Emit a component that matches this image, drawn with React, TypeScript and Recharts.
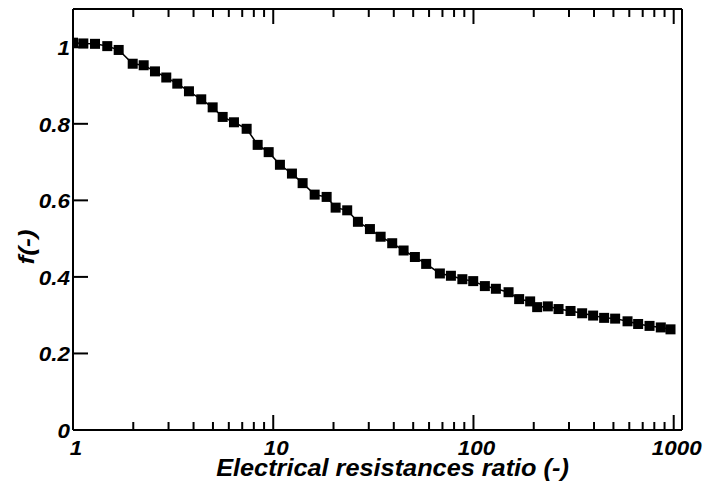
import React from 'react';
import { LineChart, Line, XAxis, YAxis } from 'recharts';

// resistance ratio (x, log scale) and f(-)
const ratio = [
  1.0, 1.126, 1.288, 1.483, 1.691, 1.987, 2.254, 2.567, 2.923, 3.317,
  3.794, 4.37, 4.983, 5.59, 6.366, 7.365, 8.36, 9.49, 10.8, 12.4,
  14.02, 16.1, 18.48, 20.49, 23.41, 26.48, 30.4, 34.38, 39.28, 44.77,
  50.98, 58.04, 67.95, 77.15, 88.0, 99.7, 114.0, 129.4, 149.7, 169.1,
  191.9, 208.0, 235.2, 266.0, 305.3, 348.9, 395.9, 449.3, 509.9, 588.0,
  664.2, 757.3, 862.0, 963.8,
];
const fValues = [
  1.012, 1.010, 1.009, 1.003, 0.993, 0.957, 0.953, 0.937, 0.921, 0.905,
  0.885, 0.864, 0.843, 0.818, 0.804, 0.787, 0.745, 0.726, 0.693, 0.670,
  0.645, 0.615, 0.609, 0.581, 0.574, 0.544, 0.525, 0.505, 0.488, 0.469,
  0.452, 0.434, 0.409, 0.403, 0.394, 0.389, 0.376, 0.369, 0.360, 0.342,
  0.336, 0.321, 0.323, 0.316, 0.311, 0.305, 0.299, 0.293, 0.291, 0.284,
  0.277, 0.272, 0.268, 0.263,
];

const majorX = [1, 10, 100, 1000];
const xTicks = [
  1, 2, 3, 4, 5, 6, 7, 8, 9,
  10, 20, 30, 40, 50, 60, 70, 80, 90,
  100, 200, 300, 400, 500, 600, 700, 800, 900,
  1000,
];
const yTicks = [0, 0.2, 0.4, 0.6, 0.8, 1];

const data = ratio.map((r, i) => ({ r, f: fValues[i] }));

const FONT = '"Liberation Sans", Arial, sans-serif';

// bold italic text, stretched a little horizontally like the original's font
const SText = (props: any) => {
  const { x, y, anchor = 'middle', size = 19.5, sx = 1.15, rotate = false, children } = props;
  const tf = `translate(${x},${y})${rotate ? ' rotate(-90)' : ''} scale(${sx},1)`;
  return (
    <text
      x={0}
      y={0}
      transform={tf}
      textAnchor={anchor}
      style={{ fontFamily: FONT, fontWeight: 700, fontStyle: 'italic', fontSize: size, fill: '#000' }}
    >
      {children}
    </text>
  );
};

const BottomTick = (props: any) => {
  const { x, y, payload } = props;
  const major = majorX.includes(payload.value);
  return (
    <g>
      <line x1={x} x2={x} y1={y} y2={y - (major ? 15 : 8)} stroke="#000" strokeWidth={2} />
      {major && (
        <SText x={x + 3} y={y + 25}>
          {payload.value}
        </SText>
      )}
    </g>
  );
};

const TopTick = (props: any) => {
  const { x, y, payload } = props;
  const major = majorX.includes(payload.value);
  return <line x1={x} x2={x} y1={y} y2={y + (major ? 15 : 8)} stroke="#000" strokeWidth={2} />;
};

const LeftTick = (props: any) => {
  const { x, y, payload } = props;
  return (
    <g>
      <line x1={x} x2={x + 15} y1={y} y2={y} stroke="#000" strokeWidth={2} />
      <SText x={x - 3} y={y + 8} anchor="end">
        {String(payload.value)}
      </SText>
    </g>
  );
};

const RightTick = (props: any) => {
  const { x, y } = props;
  return <line x1={x} x2={x - 15} y1={y} y2={y} stroke="#000" strokeWidth={2} />;
};

const SquareDot = (props: any) => {
  const { cx, cy, index } = props;
  return <rect key={`d-${index}`} x={cx - 5} y={cy - 5} width={10} height={10} fill="#000" />;
};

const axisLine = { stroke: '#000', strokeWidth: 2 };

export default function App() {
  return (
    <div style={{ position: 'absolute', left: 0, top: 0, width: 704, height: 481, background: '#fff' }}>
      <LineChart width={704} height={481} data={data} margin={{ top: 0, right: 0, bottom: 0, left: 0 }}>
        <XAxis
          xAxisId="bottom"
          dataKey="r"
          type="number"
          scale="log"
          domain={[1, 1100]}
          allowDataOverflow
          ticks={xTicks}
          interval={0}
          height={51}
          tickSize={0}
          tickMargin={0}
          tickLine={false}
          axisLine={axisLine}
          tick={<BottomTick />}
          label={{
            content: (p: any) => {
              const vb = p.viewBox;
              return (
                <SText x={vb.x + vb.width / 2 + 15} y={476} size={23} sx={1.1}>
                  Electrical resistances ratio (-)
                </SText>
              );
            },
          }}
        />
        <XAxis
          xAxisId="top"
          orientation="top"
          dataKey="r"
          type="number"
          scale="log"
          domain={[1, 1100]}
          allowDataOverflow
          ticks={xTicks}
          interval={0}
          height={9}
          tickSize={0}
          tickMargin={0}
          tickLine={false}
          axisLine={axisLine}
          tick={<TopTick />}
        />
        <YAxis
          yAxisId="left"
          type="number"
          domain={[0, 1.1]}
          ticks={yTicks}
          interval={0}
          width={73}
          tickSize={0}
          tickMargin={0}
          tickLine={false}
          axisLine={axisLine}
          tick={<LeftTick />}
          label={{
            content: () => (
              <SText x={34} y={247} size={22} sx={1.2} rotate>
                f(-)
              </SText>
            ),
          }}
        />
        <YAxis
          yAxisId="right"
          orientation="right"
          type="number"
          domain={[0, 1.1]}
          ticks={yTicks}
          interval={0}
          width={22}
          tickSize={0}
          tickMargin={0}
          tickLine={false}
          axisLine={axisLine}
          tick={<RightTick />}
        />
        <Line
          xAxisId="bottom"
          yAxisId="left"
          dataKey="f"
          type="linear"
          stroke="#000"
          strokeWidth={1.5}
          dot={<SquareDot />}
          activeDot={false}
          isAnimationActive={false}
        />
      </LineChart>
    </div>
  );
}
